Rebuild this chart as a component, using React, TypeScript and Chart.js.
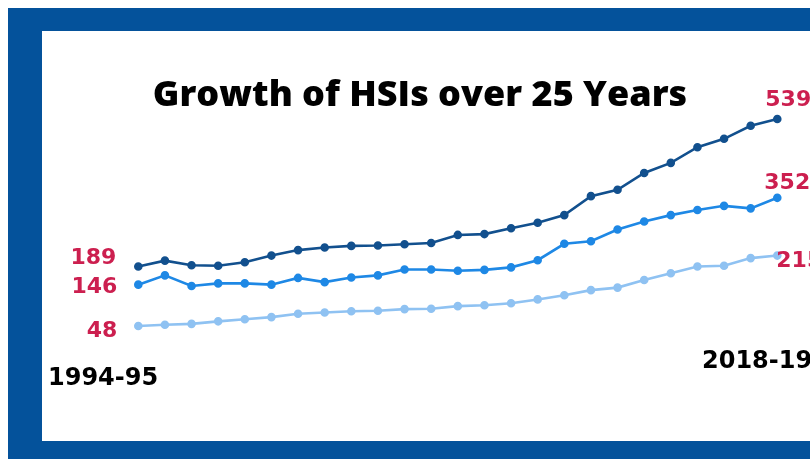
import React, { useEffect, useRef } from 'react';
import { Chart, registerables } from 'chart.js';

Chart.register(...registerables);

const TITLE = 'Growth of HSIs over 25 Years';

const years = [
  '1994-95', '1995-96', '1996-97', '1997-98', '1998-99', '1999-00', '2000-01',
  '2001-02', '2002-03', '2003-04', '2004-05', '2005-06', '2006-07', '2007-08',
  '2008-09', '2009-10', '2010-11', '2011-12', '2012-13', '2013-14', '2014-15',
  '2015-16', '2016-17', '2017-18', '2018-19',
];

const seriesTop = [189, 203, 192, 191, 199, 215, 228, 234, 238, 239, 242, 245, 264, 266, 280, 293, 311, 356, 371, 411, 435, 472, 492, 523, 539];
const seriesMid = [146, 168, 143, 149, 149, 146, 162, 152, 163, 168, 182, 182, 179, 181, 187, 204, 243, 249, 277, 296, 311, 323, 333, 327, 352];
const seriesLow = [48, 51, 53, 59, 64, 69, 77, 80, 83, 84, 88, 89, 95, 97, 102, 111, 121, 133, 139, 157, 173, 189, 191, 209, 215];

const seriesNames = ['HSIs', 'Emerging HSIs', 'HSIs with graduate programs'];

const Y_MIN = 0;
const Y_MAX = 600;

// label placement per dataset (offsets relative to first / last point)
const labelOffsets = [
  { sx: -22, sy: -3, ex: -12, ey: -13 },
  { sx: -21, sy: 8, ex: -13, ey: -9 },
  { sx: -21, sy: 11, ex: -1, ey: 11 },
];

const framePlugin = {
  id: 'frameAndText',
  beforeDraw(chart: any) {
    const ctx = chart.ctx;
    const w = chart.width;
    const h = chart.height;
    ctx.save();
    ctx.fillStyle = '#ffffff';
    ctx.fillRect(0, 0, w, h);
    ctx.fillStyle = '#04529b';
    ctx.fillRect(8, 8, w - 8, h - 8);
    ctx.fillStyle = '#ffffff';
    ctx.fillRect(42, 31, w - 42, 441 - 31);
    ctx.restore();
  },
  afterDatasetsDraw(chart: any) {
    const ctx = chart.ctx;
    ctx.save();
    // title
    ctx.fillStyle = '#000000';
    ctx.font = '800 36px "Open Sans"';
    ctx.textAlign = 'center';
    ctx.textBaseline = 'alphabetic';
    ctx.fillText(TITLE, 420, 106);

    // value labels
    ctx.font = 'bold 22px "DejaVu Sans"';
    ctx.fillStyle = '#cc1f4f';
    chart.data.datasets.forEach((ds: any, i: number) => {
      const meta = chart.getDatasetMeta(i);
      const first = meta.data[0];
      const last = meta.data[meta.data.length - 1];
      const off = labelOffsets[i];
      ctx.textAlign = 'right';
      ctx.fillText(String(ds.data[0]), first.x + off.sx, first.y + off.sy);
      ctx.textAlign = 'left';
      ctx.fillText(String(ds.data[ds.data.length - 1]), last.x + off.ex, last.y + off.ey);
    });

    // year labels
    ctx.fillStyle = '#000000';
    ctx.font = 'bold 24px "DejaVu Sans"';
    ctx.textAlign = 'left';
    const lbls = chart.data.labels;
    ctx.fillText(lbls[0], 48, 385);
    ctx.fillText(lbls[lbls.length - 1], 702, 368);
    ctx.restore();
  },
};

export default function App() {
  const ref = useRef<HTMLCanvasElement | null>(null);

  useEffect(() => {
    if (!ref.current) return;
    const mk = (label: string, data: number[], color: string) => ({
      label,
      data,
      borderColor: color,
      backgroundColor: color,
      pointBackgroundColor: color,
      pointBorderColor: color,
      borderWidth: 2.6,
      pointRadius: 3,
      pointHoverRadius: 3,
      tension: 0,
      fill: false,
    });
    const chart = new Chart(ref.current, {
      type: 'line',
      data: {
        labels: years,
        datasets: [
          mk(seriesNames[0], seriesTop, '#12508e'),
          mk(seriesNames[1], seriesMid, '#1e88e5'),
          mk(seriesNames[2], seriesLow, '#8fc2f2'),
        ],
      },
      options: {
        responsive: false,
        animation: false,
        layout: { padding: { left: 138.3, right: 32.7, top: 93.3, bottom: 112.8 } },
        plugins: { legend: { display: false }, tooltip: { enabled: false }, title: { display: false } },
        scales: {
          x: { type: 'category', display: false, offset: false },
          y: { display: false, min: Y_MIN, max: Y_MAX },
        },
      },
      plugins: [framePlugin],
    });
    return () => chart.destroy();
  }, []);

  return (
    <div style={{ position: 'absolute', left: 0, top: 0, width: 810, height: 459 }}>
      <canvas ref={ref} width={810} height={459} style={{ display: 'block' }} />
    </div>
  );
}
